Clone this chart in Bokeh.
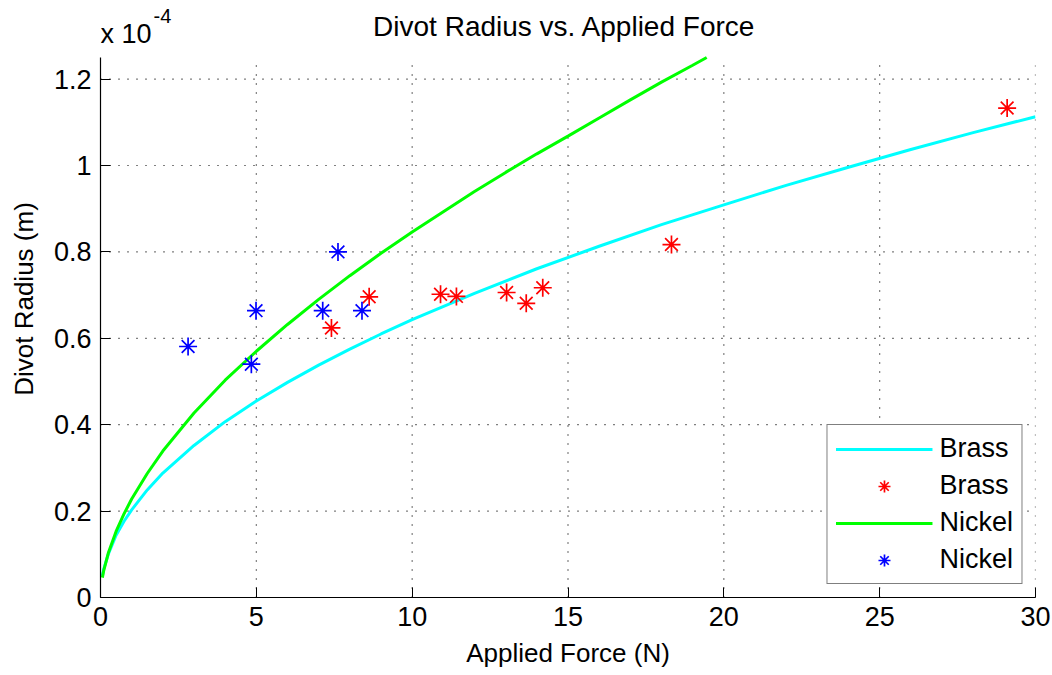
from bokeh.plotting import figure
from bokeh.models import (ColumnDataSource, FixedTicker, CustomJSTickFormatter,
                          Legend, LegendItem, Label, Range1d)
from bokeh.embed import file_html
from bokeh.resources import INLINE

SCALE = 1e-4  # values below are in units of 1e-4 m

# Measured points
brass_force = [7.41, 8.62, 10.91, 11.42, 13.03, 13.66, 14.19, 18.32, 29.09]
brass_radius = [0.624, 0.696, 0.702, 0.697, 0.706, 0.681, 0.717, 0.817, 1.133]

nickel_force = [2.81, 4.84, 4.99, 7.13, 7.62, 8.39]
nickel_radius = [0.581, 0.540, 0.664, 0.664, 0.800, 0.664]

# Fitted curves
brass_fit_force = [0.06, 0.1, 0.25, 0.5, 0.75, 1, 1.5, 2, 3, 4, 5, 6, 7, 8, 9,
                   10, 12, 14, 16, 18, 20, 22, 24, 26, 28, 30]
brass_fit_radius = [0.05, 0.065, 0.10, 0.144, 0.176, 0.203, 0.249, 0.288, 0.352,
                    0.407, 0.455, 0.498, 0.538, 0.575, 0.610, 0.643, 0.704,
                    0.761, 0.813, 0.863, 0.909, 0.954, 0.996, 1.037, 1.076,
                    1.113]

nickel_fit_force = [0.06, 0.1, 0.25, 0.5, 0.75, 1, 1.5, 2, 3, 4, 5, 6, 7, 8, 9,
                    10, 11, 12, 13, 14, 15, 16, 17, 18, 19, 19.45]
nickel_fit_radius = [0.046, 0.061, 0.103, 0.153, 0.193, 0.228, 0.287, 0.339,
                     0.427, 0.503, 0.570, 0.632, 0.690, 0.745, 0.797, 0.846,
                     0.893, 0.940, 0.984, 1.027, 1.068, 1.110, 1.152, 1.193,
                     1.232, 1.25]

x_ticks = [0, 5, 10, 15, 20, 25, 30]
y_ticks = [0, 0.2, 0.4, 0.6, 0.8, 1.0, 1.2]
x_max = 30
y_max = 1.25

FONT = "Liberation Sans"

def scaled(vals):
    return [v * SCALE for v in vals]

FRAME_H = 597      # frame reaches the top of the canvas so that texts above the
AXES_H = 540       # axes box can be drawn inside it
y_top = y_max * SCALE * FRAME_H / AXES_H

p = figure(width=1052, height=675, output_backend="svg", toolbar_location=None,
           x_range=Range1d(0, x_max), y_range=Range1d(0, y_top),
           min_border_left=100, min_border_right=17, min_border_top=0,
           min_border_bottom=78)
p.title.visible = False
p.xgrid.visible = False
p.ygrid.visible = False
p.outline_line_color = None
p.background_fill_color = "white"
p.border_fill_color = "white"

p.xaxis.ticker = FixedTicker(ticks=x_ticks)
p.yaxis.ticker = FixedTicker(ticks=scaled(y_ticks))
p.yaxis.bounds = (0, y_max * SCALE)
p.yaxis.formatter = CustomJSTickFormatter(code="return String(Math.round(tick*1e5)/10);")
p.xaxis.axis_label = "Applied Force (N)"
p.yaxis.axis_label = "Divot Radius (m)"
for ax in (p.xaxis, p.yaxis):
    ax.axis_label_text_font = FONT
    ax.axis_label_text_font_size = "26px"
    ax.axis_label_text_font_style = "normal"
    ax.axis_label_text_color = "#000000"
    ax.major_label_text_font = FONT
    ax.major_label_text_font_size = "27px"
    ax.major_label_text_color = "#000000"
    ax.axis_line_color = "#000000"
    ax.axis_line_width = 1.2
    ax.major_tick_line_color = "#000000"
    ax.major_tick_in = 10
    ax.major_tick_out = 0
    ax.minor_tick_line_color = None
    ax.major_label_standoff = 9
p.xaxis.axis_label_standoff = 9
p.yaxis.axis_label_standoff = 12

# dotted grid limited to the axes box
gx = [t for t in x_ticks if t > 0]
gy = [t * SCALE for t in y_ticks if t > 0]
p.segment(x0=gx, y0=[0] * len(gx), x1=gx, y1=[y_max * SCALE] * len(gx),
          line_color="#000000", line_dash="1 8", line_width=1.2)
p.segment(x0=[0] * len(gy), y0=gy, x1=[x_max] * len(gy), y1=gy,
          line_color="#000000", line_dash="1 8", line_width=1.2)

src_bfit = ColumnDataSource(dict(x=brass_fit_force, y=scaled(brass_fit_radius)))
src_b = ColumnDataSource(dict(x=brass_force, y=scaled(brass_radius)))
src_nfit = ColumnDataSource(dict(x=nickel_fit_force, y=scaled(nickel_fit_radius)))
src_n = ColumnDataSource(dict(x=nickel_force, y=scaled(nickel_radius)))

r_bfit = p.line("x", "y", source=src_bfit, line_color="#00FFFF", line_width=3)
r_b = p.scatter("x", "y", source=src_b, marker="asterisk", size=18,
                line_color="#FF0000", line_width=1.7)
r_nfit = p.line("x", "y", source=src_nfit, line_color="#00FF00", line_width=3)
r_n = p.scatter("x", "y", source=src_n, marker="asterisk", size=18,
                line_color="#0000FF", line_width=1.7)

legend = Legend(items=[
    LegendItem(label="Brass", renderers=[r_bfit]),
    LegendItem(label="Brass", renderers=[r_b]),
    LegendItem(label="Nickel", renderers=[r_nfit]),
    LegendItem(label="Nickel", renderers=[r_n]),
], location="bottom_right")
legend.margin = 13
legend.padding = 8
legend.spacing = 6
legend.glyph_width = 97
legend.glyph_height = 30
legend.label_height = 30
legend.label_standoff = 7
legend.label_text_font = FONT
legend.label_text_font_size = "27px"
legend.label_text_color = "#000000"
legend.border_line_color = "#000000"
legend.border_line_width = 1.2
legend.background_fill_alpha = 1.0
p.add_layout(legend)

# title and exponent multiplier, drawn above the axes box
p.add_layout(Label(x=464, y=FRAME_H - 26, x_units="screen", y_units="screen",
                   text="Divot Radius vs. Applied Force", text_align="center",
                   text_font=FONT, text_font_size="28px", text_color="#000000",
                   text_baseline="alphabetic"))
p.add_layout(Label(x=0, y=FRAME_H - 33, x_units="screen", y_units="screen",
                   text="x 10", text_font=FONT, text_font_size="27px",
                   text_color="#000000", text_baseline="alphabetic"))
p.add_layout(Label(x=53, y=FRAME_H - 15, x_units="screen", y_units="screen",
                   text="-4", text_font=FONT, text_font_size="20px",
                   text_color="#000000", text_baseline="alphabetic"))

open("out.html", "w").write(file_html(p, INLINE))
